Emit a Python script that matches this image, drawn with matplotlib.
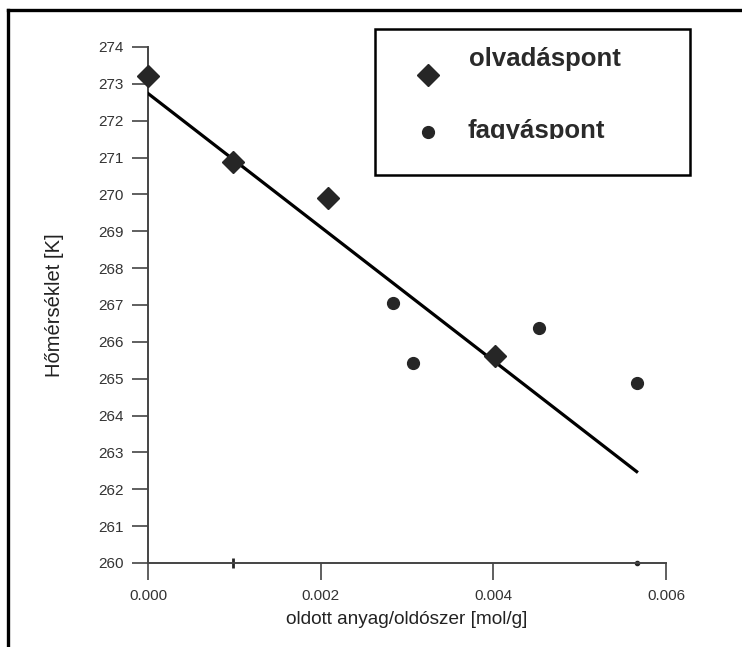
import matplotlib
matplotlib.use("Agg")
import matplotlib.pyplot as plt
from matplotlib.lines import Line2D
from matplotlib.patches import Rectangle

# adatok
olvadas_x = [0.0, 0.00098, 0.00209, 0.00402]
olvadas_y = [273.22, 270.89, 269.90, 265.62]
fagyas_x = [0.00284, 0.00307, 0.00453, 0.00566]
fagyas_y = [267.05, 265.43, 266.38, 264.88]
illesztes_x = [0.0, 0.00566]
illesztes_y = [272.74, 262.48]
tengely_jel_x = [0.00098, 0.00566]
tengely_jel_y = [260.0, 260.0]

x_ticks = [0.000, 0.002, 0.004, 0.006]
x_labels = ["0.000", "0.002", "0.004", "0.006"]
y_ticks = list(range(260, 275))

W, H = 742, 647
plt.rcParams['font.family'] = ['Liberation Sans', 'DejaVu Sans']

fig = plt.figure(figsize=(W / 100, H / 100), dpi=100)
fig.patch.set_facecolor('white')


def px(x, y):
    # pixel koordináta -> figure fraction
    return x / W, 1 - y / H


l, t = px(148, 47)
r, b = px(666, 563)
ax = fig.add_axes([l, b, r - l, t - b])
ax.set_xlim(0, 0.006)
ax.set_ylim(260, 274)

dark = '#262626'
ax.plot(illesztes_x, illesztes_y, color='black', lw=2.3, zorder=3)
ax.plot(olvadas_x, olvadas_y, 'D', ms=11.5, color=dark, mec=dark, zorder=4, clip_on=False)
ax.plot(fagyas_x, fagyas_y, 'o', ms=8.5, color=dark, mec=dark, zorder=4)
ax.plot(tengely_jel_x[:1], tengely_jel_y[:1], '|', ms=7, mew=2, color=dark, clip_on=False)
ax.plot(tengely_jel_x[1:], tengely_jel_y[1:], 'o', ms=3, color=dark, clip_on=False)

for s in ['top', 'right']:
    ax.spines[s].set_visible(False)
for s in ['left', 'bottom']:
    ax.spines[s].set_color('#444444')
    ax.spines[s].set_linewidth(1.4)

ax.set_xticks(x_ticks)
ax.set_xticklabels(x_labels)
ax.set_yticks(y_ticks)
ax.tick_params(axis='x', length=12, width=1.2, color='#444444', pad=7,
               labelsize=11, labelcolor='#333333')
ax.tick_params(axis='y', length=11.5, width=1.2, color='#444444', pad=6,
               labelsize=11, labelcolor='#333333')

ax.set_xlabel("oldott anyag/oldószer [mol/g]", fontsize=13.7, color='#222222')
ax.xaxis.set_label_coords(0.5, -0.093)
ax.set_ylabel("Hőmérséklet [K]", fontsize=14.5, color='#222222')
ax.yaxis.set_label_coords(-0.163, 0.5)

# jelmagyarázat doboz
x0, y0 = px(375, 175)
x1, y1 = px(690, 29)
fig.add_artist(Rectangle((x0, y0), x1 - x0, y1 - y0, transform=fig.transFigure,
                         fill=False, edgecolor='black', lw=1.8))
mx, my = px(428, 75)
fig.add_artist(Line2D([mx], [my], marker='D', ms=11.5, color=dark, transform=fig.transFigure))
mx, my = px(428, 132)
fig.add_artist(Line2D([mx], [my], marker='o', ms=8.5, color=dark, transform=fig.transFigure))
tx, ty = px(469, 66)
fig.text(tx, ty, "olvadáspont", fontsize=18.5, fontweight='bold', color='#2a2a2a',
         va='baseline', ha='left')
tx, ty = px(468, 138)
txt = fig.text(tx, ty, "fagyáspont", fontsize=18.5, fontweight='bold', color='#2a2a2a',
               va='baseline', ha='left')
cx0, cy0 = px(375, 139)
clip = Rectangle((cx0, cy0), 0.5, 0.3, transform=fig.transFigure)
txt.set_clip_path(clip)

# külső keret
fx0, fy0 = px(8, 647)
fx1, fy1 = px(742, 10)
fig.add_artist(Line2D([fx0, fx1], [fy1, fy1], color='black', lw=2.4, transform=fig.transFigure))
fig.add_artist(Line2D([fx0, fx0], [fy0, fy1], color='black', lw=2.4, transform=fig.transFigure))

fig.savefig("out.png", dpi=100)
